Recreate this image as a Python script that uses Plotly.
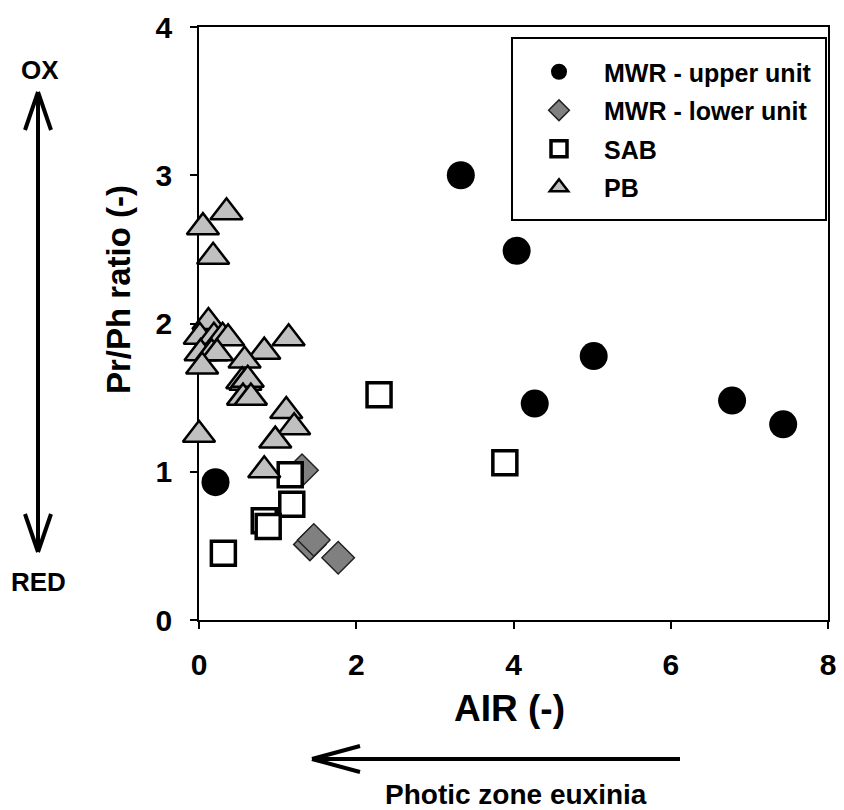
import plotly.graph_objects as go

# MWR - upper unit
upper_x = [3.33, 4.04, 5.02, 4.27, 6.78, 7.43, 0.21]
upper_y = [3.00, 2.49, 1.78, 1.46, 1.48, 1.32, 0.93]

# MWR - lower unit
lower_x = [1.31, 1.41, 1.46, 1.77]
lower_y = [1.01, 0.51, 0.54, 0.42]

# SAB
sab_x = [2.29, 3.89, 1.16, 1.18, 0.83, 0.88, 0.31]
sab_y = [1.52, 1.06, 0.98, 0.78, 0.67, 0.63, 0.45]

# PB
pb_x = [0.35, 0.05, 0.18, 0.12, 0.01, 0.19, 0.30, 0.37, 1.14, 0.02, 0.16, 0.23, 0.83,
        0.04, 0.58, 0.55, 0.59, 0.62, 0.56, 0.66, 1.11, 1.21, 0.97, 0.00, 0.83]
pb_y = [2.75, 2.65, 2.45, 2.01, 1.91, 1.91, 1.91, 1.90, 1.90, 1.80, 1.80, 1.80, 1.81,
        1.71, 1.75, 1.61, 1.60, 1.62, 1.50, 1.50, 1.41, 1.30, 1.21, 1.25, 1.01]

x_ticks = [0, 2, 4, 6, 8]
y_ticks = [0, 1, 2, 3, 4]

# page has an 8px body margin, so the figure is drawn slightly smaller
OFF = 8
W, H = 836, 802
L, R, T, B = 191, 16, 19, 190
FONT = "Liberation Sans, Arial, sans-serif"


def px(x):
    # page pixel -> paper x
    return (x - OFF - L) / (W - L - R)


def py(y):
    # page pixel -> paper y
    return (H - B - (y - OFF)) / (H - T - B)


fig = go.Figure()
fig.add_trace(go.Scatter(
    x=upper_x, y=upper_y, mode="markers", name="MWR - upper unit",
    legendgroup="a",
    marker=dict(symbol="circle", size=28, color="black", line=dict(width=0)),
    cliponaxis=False
))
fig.add_trace(go.Scatter(
    x=lower_x, y=lower_y, mode="markers", name="MWR - lower unit",
    legendgroup="b",
    marker=dict(symbol="diamond", size=25, color="#808080", line=dict(color="#222222", width=1.5)),
    cliponaxis=False
))
fig.add_trace(go.Scatter(
    x=sab_x, y=sab_y, mode="markers", name="SAB",
    legendgroup="c",
    marker=dict(symbol="square", size=24, color="white", line=dict(color="black", width=3.5)),
    cliponaxis=False
))
fig.add_trace(go.Scatter(
    x=pb_x, y=pb_y, mode="markers", name="PB",
    legendgroup="d",
    marker=dict(symbol="triangle-up", size=28, color="#c0c0c0", line=dict(color="black", width=2.5)),
    cliponaxis=False
))

axis_common = dict(
    showgrid=False, zeroline=False, showline=True, mirror=True, automargin=False,
    linecolor="black", linewidth=1.5, ticks="outside", ticklen=7,
    tickwidth=1.5, tickcolor="black", layer="below traces",
    tickfont=dict(family=FONT, size=30, color="black", weight="bold"),
)
fig.update_xaxes(range=[0, 8], tickvals=x_ticks, ticklabelstandoff=10, **axis_common)
fig.update_yaxes(range=[0, 4], tickvals=y_ticks, ticklabelstandoff=12, **axis_common)

ann_font = dict(family=FONT, color="black", weight="bold")
annotations = [
    dict(text="AIR (-)", x=px(509), y=py(708), font=dict(size=37, **ann_font)),
    dict(text="Pr/Ph ratio (-)", x=px(118), y=py(290), textangle=-90, font=dict(size=33, **ann_font)),
    dict(text="OX", x=px(40), y=py(70), font=dict(size=26, **ann_font)),
    dict(text="RED", x=px(38), y=py(582), font=dict(size=26, **ann_font)),
    dict(text="Photic zone euxinia", x=px(516), y=py(794), font=dict(size=28, **ann_font)),
]
for a in annotations:
    a.update(xref="paper", yref="paper", showarrow=False, xanchor="center", yanchor="middle")

line_style = dict(color="black", width=4)
arrow_lines = [
    # vertical double arrow
    (38, 92, 38, 552), (38, 92, 25, 130), (38, 92, 51, 130),
    (38, 552, 25, 514), (38, 552, 51, 514),
    # horizontal arrow
    (312, 759, 680, 759), (312, 759, 360, 746), (312, 759, 360, 772),
]
shapes = [
    dict(type="line", xref="paper", yref="paper",
         x0=px(a), y0=py(b), x1=px(c), y1=py(d), line=line_style)
    for a, b, c, d in arrow_lines
]
# legend frame
shapes.append(dict(type="rect", xref="paper", yref="paper", layer="below",
                   x0=px(512), x1=px(826), y0=py(38), y1=py(220),
                   fillcolor="white", line=dict(color="black", width=2)))

fig.update_layout(
    width=W, height=H,
    margin=dict(l=L, r=R, t=T, b=B),
    plot_bgcolor="white", paper_bgcolor="white",
    font=dict(family=FONT, color="black"),
    annotations=annotations,
    shapes=shapes,
    legend=dict(
        x=px(512), y=py(47), xanchor="left", yanchor="top",
        bgcolor="rgba(0,0,0,0)", bordercolor="rgba(0,0,0,0)", borderwidth=2,
        traceorder="grouped", tracegroupgap=3, itemwidth=80,
        font=dict(family=FONT, size=25, color="black", weight="bold"),
    ),
)

fig.write_html("out.html")
